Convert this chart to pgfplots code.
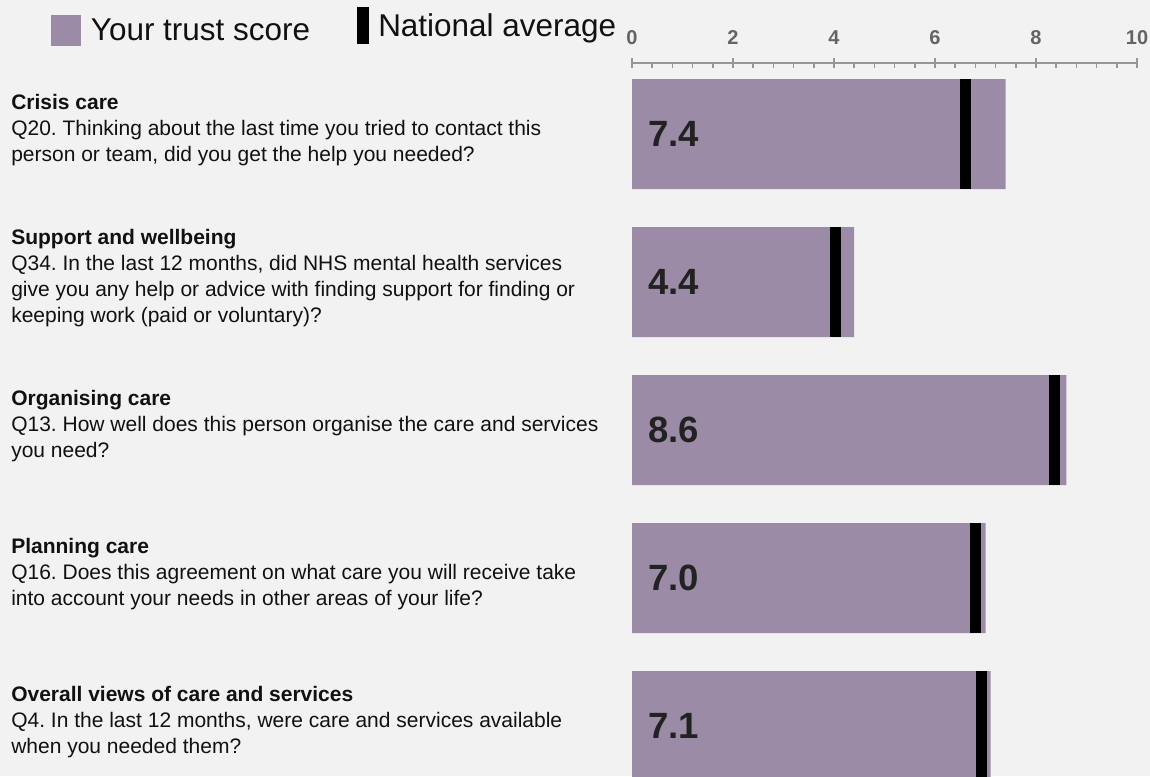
\documentclass[border=0pt]{standalone}
\usepackage{fontspec}
\setmainfont{Liberation Sans}
\usepackage{pgfplots}
\pgfplotsset{compat=1.18}
\definecolor{bg}{RGB}{242,242,242}
\definecolor{barcol}{RGB}{156,139,166}
\definecolor{tickgray}{RGB}{100,100,100}
\definecolor{axgray}{RGB}{150,150,150}
\definecolor{txt}{RGB}{17,17,17}
\definecolor{valcol}{RGB}{34,34,34}
\frenchspacing
\newcommand\tl[1]{\fontsize{15pt}{16pt}\selectfont\bfseries\textcolor{tickgray}{#1}}
\begin{document}
\begin{tikzpicture}
\fill[bg] (0,0) rectangle (862.5pt,-582pt);
\begin{axis}[
  at={(474pt,-582pt)}, anchor=south west,
  scale only axis, width=378.75pt, height=534.75pt,
  xmin=0, xmax=10, ymin=-0.48, ymax=4.338, y dir=reverse,
  axis x line*=top, axis y line=none,
  xtick={0,2,4,6,8,10},
  xticklabels={\tl{0},\tl{2},\tl{4},\tl{6},\tl{8},\tl{10}},
  minor x tick num=4,
  tick align=center, major tick length=7.5pt, minor tick length=3.75pt,
  minor x tick style={yshift=-1.875pt},
  x axis line style={axgray, line width=1.1pt},
  tick style={axgray, line width=1.1pt},
  /pgf/number format/assume math mode=true,
  xticklabel style={yshift=6.5pt},
  ytick=\empty,
]
\addplot[xbar, bar width=82.5pt, bar shift=0pt, fill=barcol, draw=none]
  coordinates {(7.4,0) (4.4,1) (8.6,2) (7.0,3) (7.1,4)};
\addplot[only marks, mark=|, mark size=41.25pt, mark options={line width=8.25pt, black, line cap=butt}]
  coordinates {(6.60,0) (4.03,1) (8.37,2) (6.80,3) (6.93,4)};
\tikzset{valnode/.style={anchor=west, inner sep=0pt, xshift=12pt, font=\fontsize{27.4pt}{30pt}\selectfont\bfseries, text=valcol}}
\node[valnode] at (axis cs:0,0) {7.4};
\node[valnode] at (axis cs:0,1) {4.4};
\node[valnode] at (axis cs:0,2) {8.6};
\node[valnode] at (axis cs:0,3) {7.0};
\node[valnode] at (axis cs:0,4) {7.1};
\end{axis}
% legend
\fill[barcol] (38.25pt,-11.25pt) rectangle (60.75pt,-34.3pt);
\node[anchor=base west, inner sep=0pt, font=\fontsize{23.6pt}{28pt}\selectfont, text=txt] at (68pt,-30pt) {Your trust score};
\fill[black] (267.75pt,-5pt) rectangle (276.75pt,-33.2pt);
\node[anchor=base west, inner sep=0pt, font=\fontsize{23.6pt}{28pt}\selectfont, text=txt] at (283.5pt,-27.5pt) {National average};
% question labels
\tikzset{qnode/.style={anchor=west, inner sep=0pt, align=left, font=\fontsize{15.75pt}{19.7pt}\selectfont, text=txt}}
\node[qnode] at (8.25pt,-97.5pt) {\textbf{Crisis care}\\Q20. Thinking about the last time you tried to contact this\\person or team, did you get the help you needed?};
\node[qnode] at (8.25pt,-208.5pt) {\textbf{Support and wellbeing}\\Q34. In the last 12 months, did NHS mental health services\\give you any help or advice with finding support for finding or\\keeping work (paid or voluntary)?};
\node[qnode] at (8.25pt,-319.5pt) {\textbf{Organising care}\\Q13. How well does this person organise the care and services\\you need?};
\node[qnode] at (8.25pt,-430.5pt) {\textbf{Planning care}\\Q16. Does this agreement on what care you will receive take\\into account your needs in other areas of your life?};
\node[qnode] at (8.25pt,-541.5pt) {\textbf{Overall views of care and services}\\Q4. In the last 12 months, were care and services available\\when you needed them?};
\pgfresetboundingbox
\useasboundingbox (0,0) rectangle (862.5pt,-582pt);
\end{tikzpicture}
\end{document}
